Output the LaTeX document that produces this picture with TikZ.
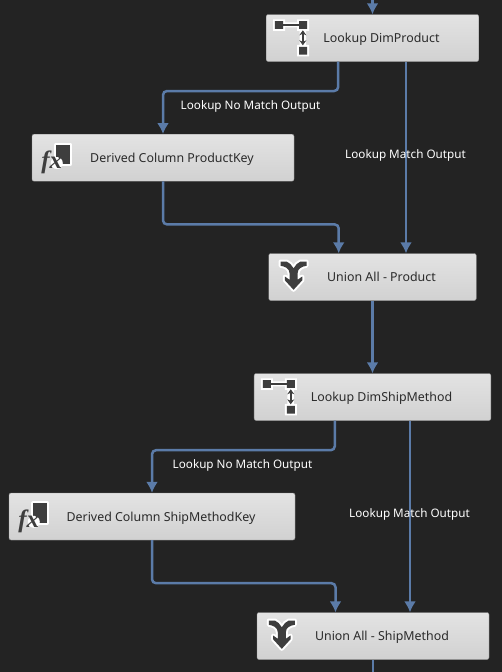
\documentclass[tikz,border=0pt]{standalone}
\usepackage{fontspec}
\setmainfont{Noto Sans}
\newfontfamily\fxfont{Liberation Serif}
\usetikzlibrary{arrows.meta}

\definecolor{canvas}{HTML}{232323}
\definecolor{flowblue}{HTML}{5B7BA8}
\definecolor{icondark}{HTML}{3E3E3E}
\definecolor{boxtext}{HTML}{2B2B2B}

\tikzset{
    taskbox/.style={draw=black!45,rounded corners=2pt,top color=black!11,bottom color=black!18,
        minimum height=47pt,inner sep=0pt,text=boxtext,font=\fontsize{12.4}{14}\selectfont,
        text height=12pt,text depth=2.6pt,execute at begin node=\hspace*{18pt}},
    flow/.style={draw=flowblue,line width=2.5pt,rounded corners=4pt,-{Latex[length=11pt,width=12pt]}},
    flowlabel/.style={text=white,font=\fontsize{11.7}{14}\selectfont,inner sep=0pt},
    halo/.style={preaction={draw=white,line width=4pt,line join=round}},
    lookupicon/.pic={
        \fill[white] (7,5) rectangle (19,16.5) (31,5) rectangle (43,16.5) (31,30.5) rectangle (43,42);
        \fill[white] (18,8) rectangle (32,13) (33.5,16) rectangle (40,31);
        \fill[icondark] (8.8,6.8) rectangle (17,14.5) (33,6.8) rectangle (41,14.5) (33,32.5) rectangle (41,40.2);
        \draw[icondark,line width=2pt] (16,10.5) -- (33,10.5);
        \draw[icondark,line width=1.8pt,{Stealth[length=5pt,width=7pt]}-{Stealth[length=5pt,width=7pt]}] (36.8,16) -- (36.8,31);
    },
    unionicon/.pic={
        \fill[icondark,halo] (12,8.2) -- (18,8.2) .. controls (21,9) and (23,12) .. (25,15)
            .. controls (27,12) and (29,9) .. (32,8.2) -- (38,8.2) -- (38,12.5)
            .. controls (34,13) and (29,15) .. (29,20) -- (29,26.5) -- (33.7,23.2)
            -- (33.7,27) -- (25,36.5) -- (16.3,27) -- (16.3,23.2) -- (21,26.5) -- (21,20)
            .. controls (21,15) and (16,13) .. (12,12.5) -- cycle;
    },
    fxicon/.pic={
        \fill[icondark,halo] (24.5,10.5) rectangle (38.5,30);
        \fill[white] (25,29) circle (6pt);
        \node[text=icondark,font=\fxfont\bfseries\itshape\fontsize{25}{25}\selectfont,inner sep=0pt] at (20,28.5) {fx};
    },
}

\begin{document}
\begin{tikzpicture}[x=1pt,y=-1pt]
    \useasboundingbox (0,0) rectangle (502,672);
    \fill[canvas] (0,0) rectangle (502,672);

    \node (lookupprod) at (372.5,38)[taskbox,minimum width=212.5pt]{Lookup DimProduct};
    \node (derivedprod) at (163,157.7)[taskbox,minimum width=262pt]{Derived Column ProductKey};
    \node (unionprod) at (372.5,277)[taskbox,minimum width=207.5pt]{Union All - Product};
    \node (lookupship) at (372.5,397)[taskbox,minimum width=236.7pt]{Lookup DimShipMethod};
    \node (derivedship) at (152,516.5)[taskbox,minimum width=286pt]{Derived Column ShipMethodKey};
    \node (unionship) at (373,636)[taskbox,minimum width=232pt]{Union All - ShipMethod};

    \coordinate (topin) at (372.5,0);
    \coordinate (bottomout) at (373,672);

    \draw[flow] (topin) -- (lookupprod.north);
    \draw[flow] ([xshift=-34.3pt]lookupprod.south) -- ++(0,29.3) -| (derivedprod.north);
    \draw[flow] ([xshift=33.5pt]lookupprod.south) -- ([xshift=33.5pt]unionprod.north);
    \draw[flow] (derivedprod.south) -- ++(0,43) -| ([xshift=-33.8pt]unionprod.north);
    \draw[flow] (unionprod.south) -- (lookupship.north);
    \draw[flow] ([xshift=-37.7pt]lookupship.south) -- ++(0,29.5) -| (derivedship.north);
    \draw[flow] ([xshift=37.5pt]lookupship.south) -- ([xshift=37pt]unionship.north);
    \draw[flow] (derivedship.south) -- ++(0,43) -| ([xshift=-37.5pt]unionship.north);
    \draw[flow,-] (unionship.south) -- (bottomout);

    \node (nomatchprod) at (250.5,106)[flowlabel]{Lookup No Match Output};
    \node (matchprod) at (405.5,155)[flowlabel]{Lookup Match Output};
    \node (nomatchship) at (242.5,465)[flowlabel]{Lookup No Match Output};
    \node (matchship) at (409.5,514)[flowlabel]{Lookup Match Output};

    \pic at (lookupprod.north west) {lookupicon};
    \pic at (derivedprod.north west) {fxicon};
    \pic at (unionprod.north west) {unionicon};
    \pic at (lookupship.north west) {lookupicon};
    \pic at (derivedship.north west) {fxicon};
    \pic at (unionship.north west) {unionicon};
\end{tikzpicture}
\end{document}
